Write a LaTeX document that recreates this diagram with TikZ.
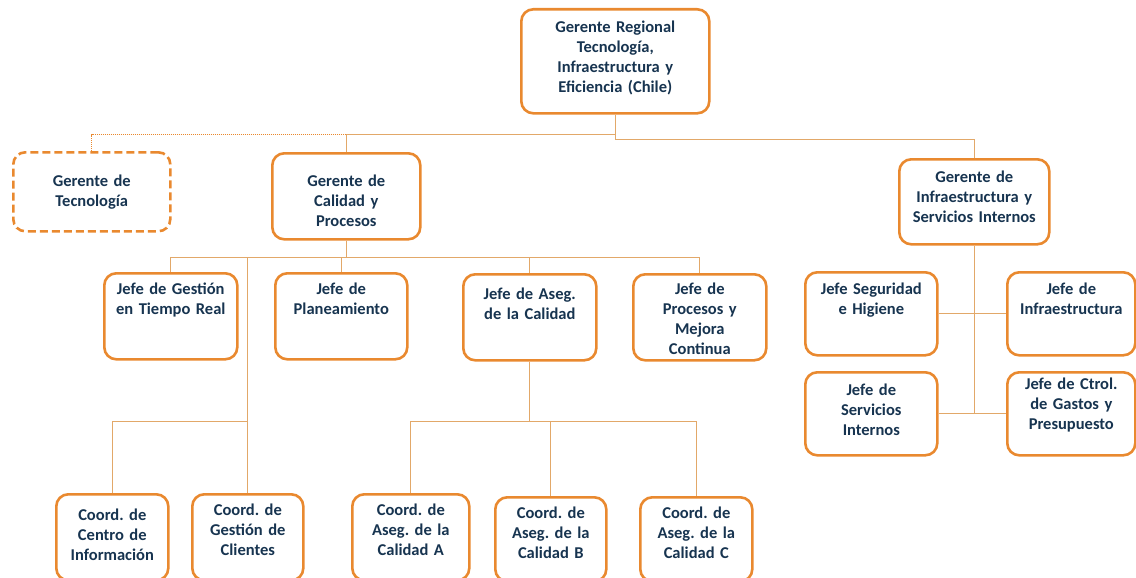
\documentclass[tikz,border=0pt]{standalone}
\usepackage{fontspec}
\setmainfont{Carlito}
\frenchspacing
\definecolor{boxline}{RGB}{233,137,47}
\definecolor{linkline}{RGB}{226,168,105}
\definecolor{txtblue}{RGB}{23,52,80}
\tikzset{
  unit/.style = {draw = boxline, line width = 2.6pt, rounded corners = 12pt,
    fill = white, text = txtblue, align = center, anchor = north west,
    inner xsep = 3pt, inner ysep = 10pt,
    font = \bfseries\fontsize{16.5}{20}\selectfont},
  % width, height, first line offset
  size/.code n args = {3}{%
    \pgfmathsetmacro\boxw{#1-8}%
    \pgfmathsetmacro\boxd{#2-20-#3}%
    \edef\boxargs{text width=\boxw pt, text height=#3pt, text depth=\boxd pt}%
    \expandafter\pgfkeysalso\expandafter{\boxargs}},
  link/.style = {draw = linkline, line width = 1.2pt},
  dotlink/.style = {draw = boxline, line width = 1pt, densely dotted}
}
\begin{document}
\begin{tikzpicture}[x = 1pt, y = -1pt]
  \useasboundingbox (0,0) rectangle (1136,578);
  % managers
  \node [unit, size = {190}{104}{13}] (gr) at (520,8)
    {Gerente Regional\\Tecnología,\\Infraestructura y\\Eficiencia (Chile)};
  \node [unit, size = {159}{79}{24}, dash pattern = on 8pt off 4pt] (gtec)
    at (12,151) {Gerente de\\Tecnología};
  \node [unit, size = {150}{86}{23}] (gcal) at (271,152)
    {Gerente de\\Calidad y\\Procesos};
  \node [unit, size = {152}{85}{13}] (ginf) at (898,158)
    {Gerente de\\Infraestructura y\\Servicios Internos};
  % heads
  \node [unit, size = {135}{86}{11}] (jgtr) at (103,272)
    {Jefe de Gestión\\en Tiempo Real};
  \node [unit, size = {134}{86}{11}] (jpla) at (274,272)
    {Jefe de\\Planeamiento};
  \node [unit, size = {135}{86}{15}] (jase) at (462,273)
    {Jefe de Aseg.\\de la Calidad};
  \node [unit, size = {135}{86}{10}] (jpro) at (632,273)
    {Jefe de\\Procesos y\\Mejora\\Continua};
  \node [unit, size = {134}{83}{12}] (jseg) at (804,271)
    {Jefe Seguridad\\e Higiene};
  \node [unit, size = {130}{83}{12}] (jinf) at (1006,271)
    {Jefe de\\Infraestructura};
  \node [unit, size = {134}{83}{13}] (jser) at (804,371)
    {Jefe de\\Servicios\\Internos};
  \node [unit, size = {130}{83}{7}] (jctr) at (1006,371)
    {Jefe de Ctrol.\\de Gastos y\\Presupuesto};
  % coordinators
  \node [unit, size = {114}{86}{16}] (ccen) at (55,493)
    {Coord. de\\Centro de\\Información};
  \node [unit, size = {113}{86}{11}] (cges) at (191,493)
    {Coord. de\\Gestión de\\Clientes};
  \node [unit, size = {119}{86}{11}] (caa) at (351,493)
    {Coord. de\\Aseg. de la\\Calidad A};
  \node [unit, size = {113}{84}{11}] (cab) at (494,496)
    {Coord. de\\Aseg. de la\\Calidad B};
  \node [unit, size = {114}{84}{11}] (cac) at (639,496)
    {Coord. de\\Aseg. de la\\Calidad C};
  % connectors
  \path (gr.south) ++(0,20) coordinate (jt);
  \path (gcal.south) ++(0,17) coordinate (jc);
  \path (jase.south) ++(0,60) coordinate (ja);
  \draw [link] (gr.south) -- (jt) -| (gcal.north);
  \draw [dotlink] (gcal.north |- jt) -| (gtec.north);
  \draw [link] (jt) -- ++(0,5) -| (ginf.north);
  \draw [link] (gcal.south) -- (jc);
  \draw [link] (jgtr.north) |- (jpro.north |- jc) -- (jpro.north);
  \draw [link] (jpla.north) -- (jpla.north |- jc);
  \draw [link] (jase.north) -- (jase.north |- jc);
  \draw [link] (cges.north) -- (cges.north |- jc);
  \draw [link] (ccen.north) |- (cges.north |- ja);
  \draw [link] (jase.south) -- (ja);
  \draw [link] (caa.north) |- (cac.north |- ja) -- (cac.north);
  \draw [link] (cab.north) -- (cab.north |- ja);
  \draw [link] (ginf.south) -- (ginf.south |- jser.east);
  \draw [link] (jseg) -- (jinf);
  \draw [link] (jser) -- (jctr);
\end{tikzpicture}
\end{document}
